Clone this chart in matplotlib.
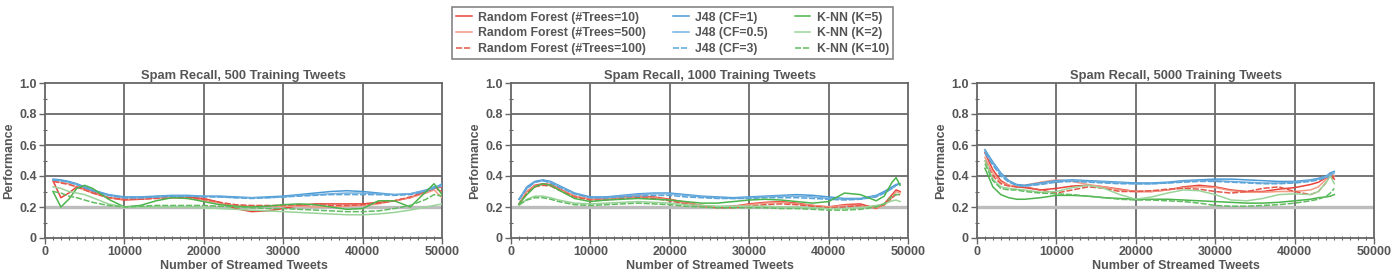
import matplotlib
matplotlib.use("Agg")
import matplotlib.pyplot as plt
from matplotlib.ticker import MultipleLocator

plt.rcParams['font.family'] = ['Liberation Sans', 'DejaVu Sans']
plt.rcParams['font.weight'] = 'bold'

TXT = '#555555'

titles = ["Spam Recall, 500 Training Tweets",
          "Spam Recall, 1000 Training Tweets",
          "Spam Recall, 5000 Training Tweets"]
labels = ["Random Forest (#Trees=10)", "Random Forest (#Trees=500)", "Random Forest (#Trees=100)",
          "J48 (CF=1)", "J48 (CF=0.5)", "J48 (CF=3)",
          "K-NN (K=5)", "K-NN (K=2)", "K-NN (K=10)"]

# ---------- panel 1: 500 training tweets ----------
x1 = [1000, 2000, 3000, 4000, 5000, 6000, 8000, 10000, 12000, 14000, 16000, 18000, 20000,
      22000, 24000, 26000, 28000, 30000, 32000, 34000, 36000, 38000, 40000, 42000, 44000,
      46000, 48000, 49000, 50000]
p1_rf10 = [0.37, 0.26, 0.29, 0.33, 0.32, 0.30, 0.26, 0.245, 0.25, 0.26, 0.265, 0.265, 0.255, 0.23, 0.19,
           0.17, 0.175, 0.19, 0.21, 0.22, 0.22, 0.22, 0.22, 0.23, 0.24, 0.26, 0.30, 0.32, 0.33]
p1_rf500 = [0.37, 0.36, 0.35, 0.33, 0.31, 0.29, 0.26, 0.25, 0.255, 0.26, 0.26, 0.255, 0.245, 0.225, 0.21,
            0.205, 0.205, 0.205, 0.205, 0.20, 0.20, 0.205, 0.21, 0.22, 0.24, 0.26, 0.29, 0.31, 0.26]
p1_rf100 = [0.365, 0.355, 0.345, 0.33, 0.31, 0.29, 0.26, 0.25, 0.25, 0.255, 0.26, 0.26, 0.25, 0.23, 0.215,
            0.21, 0.21, 0.21, 0.215, 0.215, 0.21, 0.21, 0.215, 0.225, 0.24, 0.265, 0.30, 0.32, 0.30]
p1_j1 = [0.38, 0.375, 0.365, 0.35, 0.33, 0.31, 0.28, 0.265, 0.265, 0.27, 0.275, 0.275, 0.27, 0.27, 0.265,
         0.26, 0.265, 0.27, 0.28, 0.29, 0.30, 0.305, 0.30, 0.29, 0.28, 0.285, 0.31, 0.33, 0.34]
p1_j05 = [0.375, 0.37, 0.36, 0.345, 0.325, 0.305, 0.275, 0.26, 0.26, 0.265, 0.27, 0.27, 0.27, 0.265, 0.26,
          0.26, 0.26, 0.265, 0.275, 0.28, 0.285, 0.29, 0.29, 0.285, 0.28, 0.285, 0.305, 0.325, 0.335]
p1_j3 = [0.375, 0.37, 0.36, 0.345, 0.325, 0.305, 0.275, 0.26, 0.26, 0.265, 0.27, 0.27, 0.265, 0.265, 0.26,
         0.255, 0.26, 0.265, 0.27, 0.275, 0.28, 0.28, 0.28, 0.28, 0.275, 0.28, 0.30, 0.32, 0.35]
p1_k5 = [0.30, 0.20, 0.25, 0.32, 0.34, 0.32, 0.25, 0.20, 0.21, 0.24, 0.26, 0.255, 0.235, 0.215, 0.205,
         0.20, 0.205, 0.215, 0.22, 0.215, 0.20, 0.185, 0.19, 0.24, 0.24, 0.20, 0.30, 0.35, 0.28]
p1_k2 = [0.33, 0.32, 0.30, 0.29, 0.28, 0.26, 0.22, 0.20, 0.20, 0.20, 0.20, 0.20, 0.195, 0.19, 0.185,
         0.18, 0.175, 0.17, 0.165, 0.16, 0.155, 0.15, 0.15, 0.155, 0.165, 0.18, 0.20, 0.21, 0.22]
p1_k10 = [0.30, 0.29, 0.27, 0.26, 0.245, 0.23, 0.21, 0.20, 0.205, 0.21, 0.21, 0.21, 0.21, 0.205, 0.20,
          0.195, 0.19, 0.19, 0.185, 0.18, 0.175, 0.17, 0.17, 0.175, 0.19, 0.21, 0.25, 0.28, 0.27]

# ---------- panel 2: 1000 training tweets ----------
x2 = [1000, 2000, 3000, 4000, 5000, 6000, 8000, 10000, 12000, 14000, 16000, 18000, 20000,
      22000, 24000, 26000, 28000, 30000, 32000, 34000, 36000, 38000, 40000, 42000, 44000,
      46000, 47000, 48000, 48500, 49000]
p2_rf10 = [0.22, 0.30, 0.34, 0.35, 0.345, 0.32, 0.27, 0.25, 0.255, 0.265, 0.27, 0.265, 0.25, 0.23, 0.21,
           0.20, 0.205, 0.22, 0.23, 0.235, 0.225, 0.21, 0.20, 0.215, 0.22, 0.19, 0.22, 0.28, 0.31, 0.30]
p2_rf500 = [0.22, 0.30, 0.335, 0.345, 0.34, 0.315, 0.27, 0.25, 0.25, 0.26, 0.265, 0.26, 0.245, 0.225, 0.21,
            0.20, 0.205, 0.215, 0.225, 0.23, 0.22, 0.21, 0.20, 0.21, 0.21, 0.195, 0.21, 0.26, 0.30, 0.29]
p2_rf100 = [0.21, 0.29, 0.33, 0.34, 0.335, 0.31, 0.265, 0.245, 0.245, 0.255, 0.26, 0.255, 0.24, 0.22, 0.205,
            0.195, 0.195, 0.205, 0.215, 0.22, 0.215, 0.205, 0.195, 0.20, 0.21, 0.20, 0.215, 0.26, 0.28, 0.28]
p2_j1 = [0.25, 0.33, 0.365, 0.375, 0.365, 0.34, 0.29, 0.265, 0.265, 0.275, 0.285, 0.29, 0.29, 0.28, 0.27,
         0.265, 0.26, 0.265, 0.27, 0.275, 0.28, 0.275, 0.265, 0.255, 0.255, 0.275, 0.30, 0.33, 0.345, 0.35]
p2_j05 = [0.25, 0.32, 0.36, 0.37, 0.36, 0.335, 0.285, 0.26, 0.26, 0.27, 0.28, 0.285, 0.285, 0.275, 0.265,
          0.26, 0.255, 0.26, 0.265, 0.27, 0.27, 0.265, 0.255, 0.25, 0.25, 0.27, 0.29, 0.32, 0.34, 0.35]
p2_j3 = [0.245, 0.32, 0.36, 0.37, 0.355, 0.33, 0.285, 0.26, 0.26, 0.265, 0.27, 0.275, 0.275, 0.265, 0.26,
         0.255, 0.255, 0.255, 0.26, 0.26, 0.26, 0.255, 0.25, 0.245, 0.25, 0.265, 0.29, 0.32, 0.34, 0.355]
p2_k5 = [0.22, 0.28, 0.33, 0.35, 0.34, 0.31, 0.255, 0.235, 0.245, 0.25, 0.255, 0.25, 0.245, 0.235, 0.225,
         0.225, 0.235, 0.245, 0.25, 0.245, 0.235, 0.225, 0.235, 0.29, 0.28, 0.24, 0.27, 0.36, 0.39, 0.34]
p2_k2 = [0.21, 0.25, 0.27, 0.27, 0.26, 0.245, 0.225, 0.22, 0.225, 0.23, 0.235, 0.23, 0.225, 0.215, 0.21,
         0.205, 0.205, 0.205, 0.205, 0.20, 0.20, 0.195, 0.19, 0.19, 0.195, 0.21, 0.22, 0.24, 0.245, 0.235]
p2_k10 = [0.215, 0.245, 0.26, 0.26, 0.25, 0.235, 0.215, 0.21, 0.215, 0.22, 0.225, 0.22, 0.215, 0.205, 0.20,
          0.195, 0.195, 0.195, 0.195, 0.19, 0.19, 0.185, 0.18, 0.18, 0.185, 0.20, 0.22, 0.27, 0.28, 0.28]

# ---------- panel 3: 5000 training tweets ----------
x3 = [1000, 2000, 3000, 4000, 5000, 6000, 8000, 10000, 12000, 14000, 16000, 18000, 20000,
      22000, 24000, 26000, 28000, 30000, 32000, 34000, 36000, 38000, 40000, 42000, 43000,
      44000, 44500, 45000]
p3_rf10 = [0.55, 0.44, 0.37, 0.34, 0.33, 0.325, 0.31, 0.32, 0.335, 0.34, 0.33, 0.315, 0.30, 0.30,
           0.31, 0.33, 0.34, 0.33, 0.31, 0.30, 0.30, 0.315, 0.325, 0.345, 0.36, 0.39, 0.40, 0.38]
p3_rf500 = [0.52, 0.42, 0.36, 0.34, 0.335, 0.34, 0.36, 0.375, 0.365, 0.345, 0.33, 0.31, 0.30, 0.30,
            0.31, 0.325, 0.33, 0.325, 0.305, 0.295, 0.295, 0.30, 0.30, 0.31, 0.33, 0.38, 0.42, 0.40]
p3_rf100 = [0.50, 0.40, 0.35, 0.335, 0.33, 0.33, 0.31, 0.29, 0.31, 0.33, 0.32, 0.30, 0.30, 0.305,
            0.315, 0.32, 0.315, 0.30, 0.29, 0.30, 0.32, 0.33, 0.30, 0.28, 0.30, 0.36, 0.41, 0.39]
p3_j1 = [0.57, 0.49, 0.42, 0.37, 0.345, 0.34, 0.355, 0.37, 0.375, 0.37, 0.365, 0.36, 0.355, 0.355,
         0.36, 0.37, 0.375, 0.38, 0.38, 0.375, 0.37, 0.365, 0.365, 0.375, 0.385, 0.40, 0.42, 0.43]
p3_j05 = [0.56, 0.48, 0.41, 0.365, 0.34, 0.335, 0.35, 0.365, 0.37, 0.365, 0.36, 0.355, 0.35, 0.35,
          0.355, 0.365, 0.37, 0.37, 0.365, 0.36, 0.355, 0.355, 0.36, 0.37, 0.38, 0.395, 0.41, 0.42]
p3_j3 = [0.55, 0.47, 0.40, 0.36, 0.34, 0.335, 0.345, 0.36, 0.365, 0.36, 0.355, 0.35, 0.35, 0.35,
         0.355, 0.36, 0.365, 0.365, 0.36, 0.355, 0.35, 0.35, 0.355, 0.365, 0.375, 0.39, 0.40, 0.41]
p3_k5 = [0.45, 0.33, 0.28, 0.26, 0.25, 0.25, 0.26, 0.275, 0.275, 0.27, 0.26, 0.255, 0.25, 0.25,
         0.25, 0.245, 0.24, 0.235, 0.23, 0.225, 0.225, 0.23, 0.24, 0.25, 0.26, 0.265, 0.27, 0.28]
p3_k2 = [0.50, 0.38, 0.33, 0.32, 0.315, 0.31, 0.295, 0.30, 0.325, 0.34, 0.32, 0.28, 0.25, 0.265,
         0.29, 0.31, 0.305, 0.28, 0.245, 0.24, 0.255, 0.28, 0.285, 0.28, 0.30, 0.36, 0.40, 0.35]
p3_k10 = [0.48, 0.37, 0.32, 0.31, 0.31, 0.30, 0.29, 0.285, 0.28, 0.27, 0.26, 0.25, 0.245, 0.245,
          0.24, 0.235, 0.225, 0.21, 0.205, 0.205, 0.21, 0.215, 0.225, 0.24, 0.25, 0.27, 0.29, 0.32]

panels = [
    (x1, [p1_rf10, p1_rf500, p1_rf100, p1_j1, p1_j05, p1_j3, p1_k5, p1_k2, p1_k10]),
    (x2, [p2_rf10, p2_rf500, p2_rf100, p2_j1, p2_j05, p2_j3, p2_k5, p2_k2, p2_k10]),
    (x3, [p3_rf10, p3_rf500, p3_rf100, p3_j1, p3_j05, p3_j3, p3_k5, p3_k2, p3_k10]),
]

colors = ['#e8433a', '#f29a84', '#e4564a',
          '#4a9ad6', '#76b2e0', '#5aa4d8',
          '#4cb44c', '#9ad49a', '#62bc62']
styles = ['-', '-', (0, (4, 1.2)), '-', '-', (0, (4, 1.2)), '-', '-', (0, (4, 1.2))]

fig = plt.figure(figsize=(13.95, 2.72), dpi=100)
lefts = [45 / 1395, 511 / 1395, 977 / 1395]
W = 397 / 1395
B = 1 - 238 / 272
H = (238 - 83) / 272

handles = []
for i, (xs, series) in enumerate(panels):
    ax = fig.add_axes([lefts[i], B, W, H])
    ax.set_xlim(0, 50000)
    ax.set_ylim(0, 1.0)
    ax.xaxis.set_major_locator(MultipleLocator(10000))
    ax.xaxis.set_minor_locator(MultipleLocator(1000))
    ax.yaxis.set_major_locator(MultipleLocator(0.2))
    ax.yaxis.set_minor_locator(MultipleLocator(0.1))
    ax.set_yticks([0, 0.2, 0.4, 0.6, 0.8, 1.0])
    ax.set_yticklabels(['0', '0.2', '0.4', '0.6', '0.8', '1.0'])
    for yv in [0.4, 0.6, 0.8]:
        ax.axhline(yv, color='#6a6a6a', lw=1.3, zorder=1)
    for xv in [10000, 20000, 30000, 40000]:
        ax.axvline(xv, color='#6a6a6a', lw=1.3, zorder=1)
    ax.axhline(0.2, color='#bdbdbd', lw=2.4, zorder=1.5)
    for j, ys in enumerate(series):
        h, = ax.plot(xs, ys, color=colors[j], lw=1.1, ls=styles[j], zorder=3, label=labels[j])
        if i == 0:
            handles.append(h)
    for sp in ax.spines.values():
        sp.set_color('#666666')
        sp.set_linewidth(1.3)
    ax.tick_params(axis='both', which='major', direction='out', length=4, width=1.0,
                   color='#666666', labelcolor=TXT, labelsize=9, pad=2)
    ax.tick_params(axis='both', which='minor', direction='inout', length=3, width=0.8,
                   color='#666666')
    ax.set_title(titles[i], fontsize=9.3, color=TXT, fontweight='bold', pad=3)
    ax.set_xlabel('Number of Streamed Tweets', fontsize=9, color=TXT, fontweight='bold', labelpad=1)
    ax.set_ylabel('Performance', fontsize=9, color=TXT, fontweight='bold', labelpad=3)

leg = fig.legend(handles, labels,
                 ncol=3, loc='upper center', bbox_to_anchor=(672.5 / 1395, 0.995),
                 fontsize=8.8, frameon=True, fancybox=False, borderpad=0.35,
                 labelspacing=0.3, handlelength=1.3, handletextpad=0.5, columnspacing=2.2)
leg.get_frame().set_edgecolor('#666666')
leg.get_frame().set_linewidth(1.2)
for t in leg.get_texts():
    t.set_color(TXT)

fig.savefig('out.png', dpi=100)
